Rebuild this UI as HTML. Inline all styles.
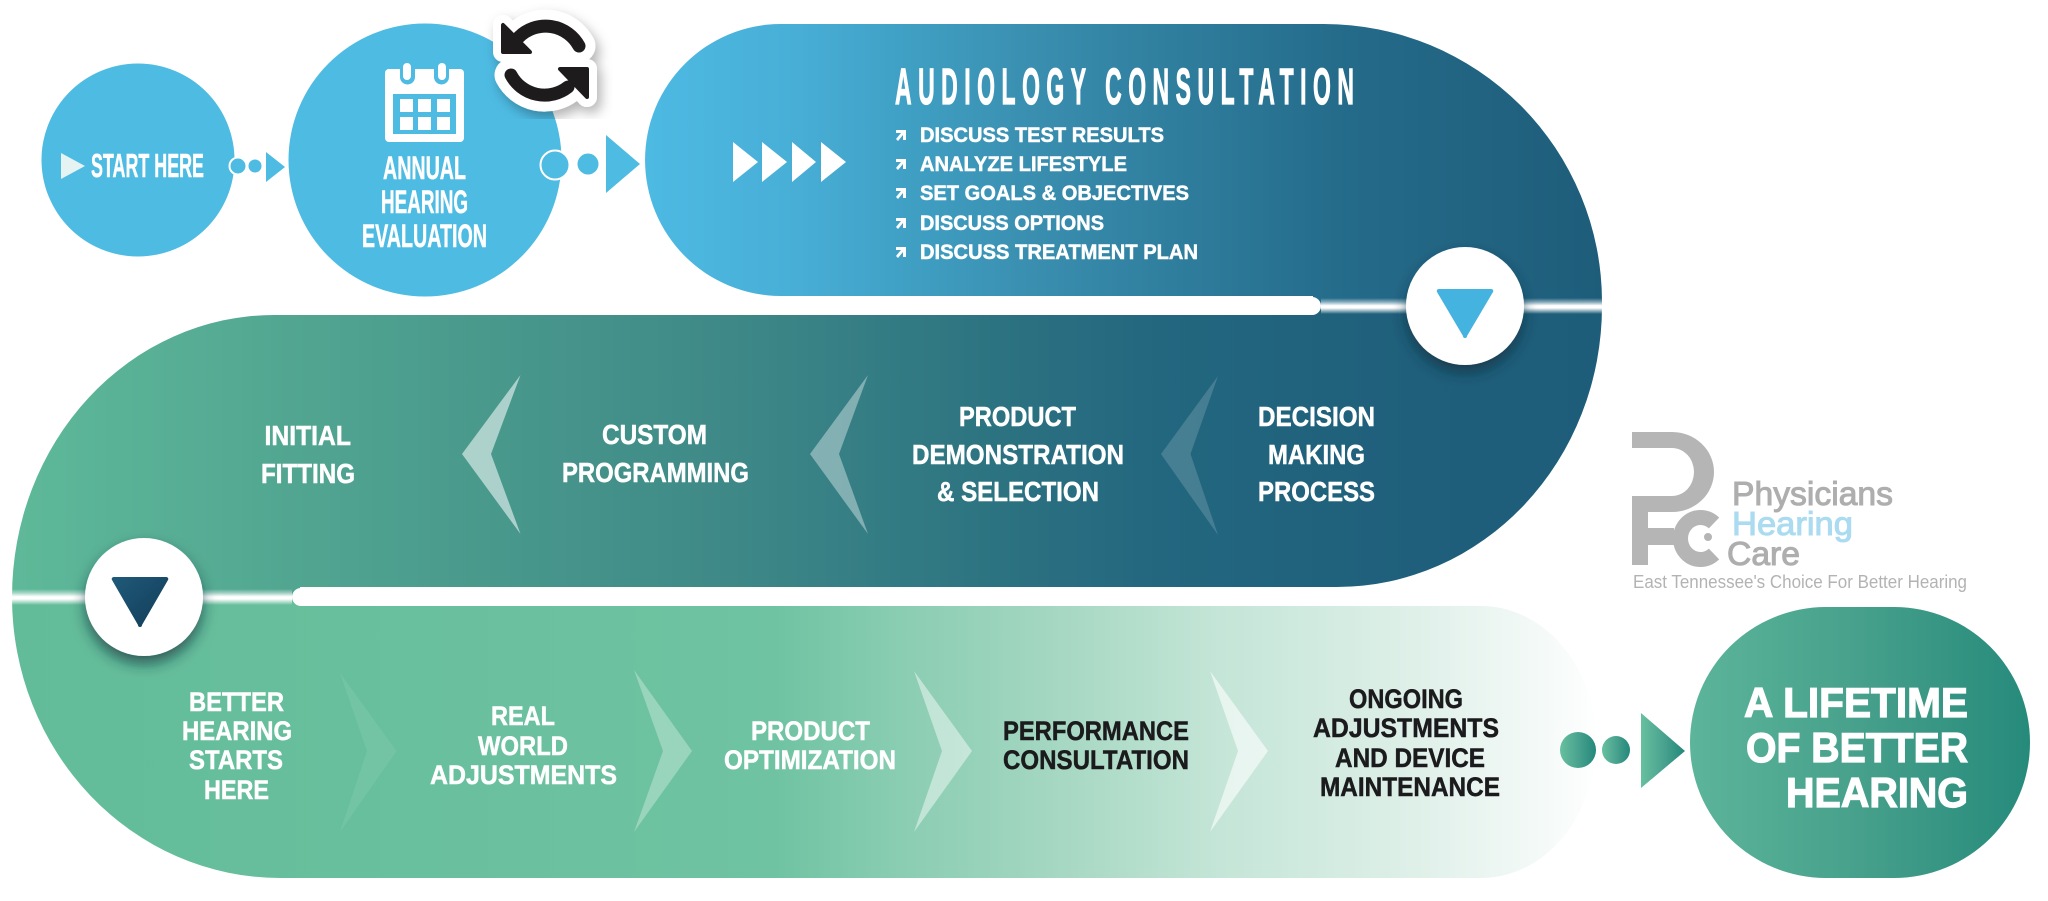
<!DOCTYPE html>
<html><head><meta charset="utf-8"><style>
html,body{margin:0;padding:0;background:#fff}
svg{display:block}
text{font-family:"Liberation Sans",sans-serif;font-weight:700;fill:#fff;stroke:#fff;stroke-width:.5}
.d{fill:#1b1b1d;stroke:#1b1b1d}
.l{font-weight:400;fill:#b3b3b3;stroke:none}
</style></head><body>
<svg width="2048" height="901" viewBox="0 0 2048 901" xmlns="http://www.w3.org/2000/svg">
<defs>
<linearGradient id="g1" gradientUnits="userSpaceOnUse" x1="645" y1="0" x2="1602" y2="0">
<stop offset="0" stop-color="#4dbae3"/><stop offset=".16" stop-color="#48aed6"/><stop offset=".28" stop-color="#3f9fc3"/><stop offset=".4" stop-color="#3a8fb0"/><stop offset=".54" stop-color="#307f9f"/><stop offset=".74" stop-color="#246a89"/><stop offset="1" stop-color="#1e5d7a"/>
</linearGradient>
<linearGradient id="g2" gradientUnits="userSpaceOnUse" x1="12" y1="0" x2="1602" y2="0">
<stop offset="0" stop-color="#5eb999"/><stop offset=".24" stop-color="#4d9f8e"/><stop offset=".44" stop-color="#3f8a88"/><stop offset=".64" stop-color="#2a7080"/><stop offset=".72" stop-color="#23677f"/><stop offset=".88" stop-color="#1f5f7b"/><stop offset="1" stop-color="#1e5d7a"/>
</linearGradient>
<linearGradient id="g3" gradientUnits="userSpaceOnUse" x1="12" y1="0" x2="1600" y2="0">
<stop offset="0" stop-color="#62bc99"/><stop offset=".48" stop-color="#6fc3a2"/><stop offset=".56" stop-color="#8acdb3"/><stop offset=".64" stop-color="#a0d5bf"/><stop offset=".76" stop-color="#c4e5d7"/><stop offset=".885" stop-color="#dff0e9"/><stop offset=".966" stop-color="#f5faf8"/><stop offset="1" stop-color="#ffffff"/>
</linearGradient>
<linearGradient id="g4" x1="0" y1="0" x2="1" y2="0">
<stop offset="0" stop-color="#67c09e"/><stop offset=".5" stop-color="#4aa38f"/><stop offset="1" stop-color="#23887b"/>
</linearGradient>
<linearGradient id="g5" x1="0" y1="0" x2="1" y2="0">
<stop offset="0" stop-color="#5cb59a"/><stop offset=".5" stop-color="#46a08b"/><stop offset="1" stop-color="#268a7b"/>
</linearGradient>
<linearGradient id="gb" x1="0" y1="0" x2="0" y2="1">
<stop offset="0" stop-color="#fff" stop-opacity="0"/><stop offset=".25" stop-color="#fff" stop-opacity=".45"/><stop offset=".48" stop-color="#fff"/><stop offset=".62" stop-color="#fff"/><stop offset=".85" stop-color="#fff" stop-opacity=".4"/><stop offset="1" stop-color="#fff" stop-opacity="0"/>
</linearGradient>
<linearGradient id="gt" x1="0" y1="0" x2="1" y2="1">
<stop offset="0" stop-color="#1f5a79"/><stop offset="1" stop-color="#123c58"/>
</linearGradient>
<filter id="sh" x="-40%" y="-40%" width="180%" height="180%"><feDropShadow dx="0" dy="8" stdDeviation="7" flood-color="#0a2a38" flood-opacity=".65"/></filter>
<filter id="sh2" x="-30%" y="-30%" width="160%" height="160%"><feDropShadow dx="4" dy="6" stdDeviation="6" flood-color="#000" flood-opacity=".3"/></filter>
</defs>

<!-- rows -->
<path d="M781 24H1324A278 278 0 0 1 1602 302V306H1313V296H781A136 136 0 0 1 781 24Z" fill="url(#g1)"/>
<path d="M274 315H1313V306H1602A265 281 0 0 1 1337 587H300V597H12A262 282 0 0 1 274 315Z" fill="url(#g2)"/>
<path d="M12 597H300V606H1481A115 136 0 0 1 1481 878H280A268 281 0 0 1 12 597Z" fill="url(#g3)"/>
<!-- white bars -->
<path d="M700 297H1312a9 9 0 0 1 0 18H700Z" fill="#fff"/>
<path d="M301 588H1400V606H301a9 9 0 0 1 0-18Z" fill="#fff"/>
<rect x="1321" y="298" width="281" height="16" fill="url(#gb)"/>
<rect x="12" y="589" width="280" height="16" fill="url(#gb)"/>

<!-- start circles -->
<circle cx="138" cy="160" r="96.5" fill="#4ebbe3"/>
<circle cx="425" cy="160" r="136.5" fill="#4ebbe3"/>
<polygon points="61,153 85,166 61,179" fill="#e6f3f3"/>
<text x="91" y="177" font-size="33" textLength="113" lengthAdjust="spacingAndGlyphs">START HERE</text>
<circle cx="238" cy="166" r="8.5" fill="#4ebbe3" stroke="#fff" stroke-width="2"/>
<circle cx="255" cy="166" r="6.5" fill="#4ebbe3"/>
<polygon points="266,152 285,167 266,182" fill="#4ebbe3"/>
<text x="383" y="179" font-size="32" textLength="83" lengthAdjust="spacingAndGlyphs">ANNUAL</text>
<text x="381" y="213" font-size="32" textLength="87" lengthAdjust="spacingAndGlyphs">HEARING</text>
<text x="362" y="247" font-size="32" textLength="125" lengthAdjust="spacingAndGlyphs">EVALUATION</text>
<circle cx="555" cy="165" r="14.5" fill="#4ebbe3" stroke="#fff" stroke-width="2"/>
<circle cx="588" cy="164" r="10.5" fill="#4ebbe3"/>
<polygon points="606,135 640,164 606,193" fill="#4ebbe3"/>

<!-- calendar -->
<rect x="385" y="69" width="79" height="73" rx="4" fill="#fff"/>
<rect x="393" y="94" width="63" height="40" fill="#4ebbe3"/>
<g fill="#fff">
<rect x="400" y="99" width="13" height="13"/><rect x="418" y="99" width="13" height="13"/><rect x="437" y="99" width="13" height="13"/>
<rect x="400" y="117" width="13" height="13"/><rect x="418" y="117" width="13" height="13"/><rect x="437" y="117" width="13" height="13"/>
</g>
<path d="M400 69V77a7.500 7.500 0 0 0 15 0V69Z" fill="#4ebbe3"/>
<path d="M434 69V77a7.500 7.500 0 0 0 15 0V69Z" fill="#4ebbe3"/>
<rect x="403" y="63" width="8" height="17" rx="4" fill="#fff"/>
<rect x="438" y="63" width="8" height="17" rx="4" fill="#fff"/>

<!-- reload sticker -->
<g filter="url(#sh2)">
<g fill="#fff" stroke="#fff" stroke-linejoin="round" stroke-linecap="round">
<circle cx="545" cy="60" r="34" stroke="none"/>
<path d="M579 46A38 38 0 0 0 519 37" fill="none" stroke-width="33"/>
<polygon points="503,25 503,52 530,52" stroke-width="20"/>
<path d="M511 75A38 38 0 0 0 568 87" fill="none" stroke-width="33"/>
<polygon points="587,69 587,97 560,69" stroke-width="20"/>
</g>
</g>
<g fill="#1d1b1c" stroke="#1d1b1c" stroke-linejoin="round" stroke-linecap="round">
<path d="M579 46A38 38 0 0 0 519 37" fill="none" stroke-width="13"/>
<polygon points="503,25 503,52 530,52" stroke-width="4"/>
<path d="M511 75A38 38 0 0 0 568 87" fill="none" stroke-width="13"/>
<polygon points="587,69 587,97 560,69" stroke-width="4"/>
</g>

<!-- audiology -->
<g fill="#fff">
<polygon points="733,142 758,162 733,182"/><polygon points="762,142 787,162 762,182"/><polygon points="792,142 816,162 792,182"/><polygon points="821,142 846,162 821,182"/>
</g>
<text transform="translate(895,104) scale(.45,1)" font-size="51" textLength="1020" lengthAdjust="spacing" style="stroke-width:1.2">AUDIOLOGY CONSULTATION</text>
<g fill="#fff">
<path d="M896 130h10v10h-3v-5l-5 6-2-2 5-6h-5z"/>
<path d="M896 159h10v10h-3v-5l-5 6-2-2 5-6h-5z"/>
<path d="M896 188h10v10h-3v-5l-5 6-2-2 5-6h-5z"/>
<path d="M896 218h10v10h-3v-5l-5 6-2-2 5-6h-5z"/>
<path d="M896 247h10v10h-3v-5l-5 6-2-2 5-6h-5z"/>
</g>
<text x="920" y="142" font-size="21" textLength="244" lengthAdjust="spacingAndGlyphs">DISCUSS TEST RESULTS</text>
<text x="920" y="171" font-size="21" textLength="207" lengthAdjust="spacingAndGlyphs">ANALYZE LIFESTYLE</text>
<text x="920" y="200" font-size="21" textLength="269" lengthAdjust="spacingAndGlyphs">SET GOALS &amp; OBJECTIVES</text>
<text x="920" y="230" font-size="21" textLength="184" lengthAdjust="spacingAndGlyphs">DISCUSS OPTIONS</text>
<text x="920" y="259" font-size="21" textLength="278" lengthAdjust="spacingAndGlyphs">DISCUSS TREATMENT PLAN</text>

<!-- button 1 -->
<circle cx="1465" cy="306" r="59" fill="#fff" filter="url(#sh)"/>
<path d="M1439 289H1491a2 2 0 0 1 2 3L1467 336a2 2 0 0 1-4 0L1437 292a2 2 0 0 1 2-3Z" fill="#45b3df"/>

<!-- row 2 -->
<polygon points="462,454 520.500,375 491,454 520.500,534" fill="#fff" fill-opacity=".55"/>
<polygon points="810,454 868,375 839,454 868,534" fill="#fff" fill-opacity=".38"/>
<polygon points="1161,454 1218,376 1190.500,454 1218,535" fill="#fff" fill-opacity=".16"/>
<text x="264.500" y="445" font-size="28" textLength="86.500" lengthAdjust="spacingAndGlyphs">INITIAL</text>
<text x="261" y="483" font-size="28" textLength="94" lengthAdjust="spacingAndGlyphs">FITTING</text>
<text x="602" y="444" font-size="28" textLength="105" lengthAdjust="spacingAndGlyphs">CUSTOM</text>
<text x="562" y="482" font-size="28" textLength="187" lengthAdjust="spacingAndGlyphs">PROGRAMMING</text>
<text x="959" y="426" font-size="28" textLength="117" lengthAdjust="spacingAndGlyphs">PRODUCT</text>
<text x="912" y="464" font-size="28" textLength="212" lengthAdjust="spacingAndGlyphs">DEMONSTRATION</text>
<text x="937" y="501" font-size="28" textLength="162" lengthAdjust="spacingAndGlyphs">&amp; SELECTION</text>
<text x="1258" y="426" font-size="28" textLength="117" lengthAdjust="spacingAndGlyphs">DECISION</text>
<text x="1268" y="464" font-size="28" textLength="97" lengthAdjust="spacingAndGlyphs">MAKING</text>
<text x="1258" y="501" font-size="28" textLength="117" lengthAdjust="spacingAndGlyphs">PROCESS</text>

<!-- button 2 -->
<circle cx="144" cy="597" r="59" fill="#fff" filter="url(#sh)"/>
<path d="M114 577H166a2 2 0 0 1 2 3L142 625a2 2 0 0 1-4 0L112 580a2 2 0 0 1 2-3Z" fill="url(#gt)"/>

<!-- row 3 -->
<polygon points="340,673 396.500,751 340,832 367,751" fill="#fff" fill-opacity=".08"/>
<polygon points="634,670 692,751 634,832 663,751" fill="#fff" fill-opacity=".3"/>
<polygon points="914,671 972,751 914,832 942,751" fill="#fff" fill-opacity=".45"/>
<polygon points="1210,671 1268,751 1210,832 1238,751" fill="#fff" fill-opacity=".6"/>
<text x="189" y="711" font-size="27" textLength="95" lengthAdjust="spacingAndGlyphs">BETTER</text>
<text x="182" y="740" font-size="27" textLength="110" lengthAdjust="spacingAndGlyphs">HEARING</text>
<text x="189" y="769" font-size="27" textLength="94" lengthAdjust="spacingAndGlyphs">STARTS</text>
<text x="204" y="799" font-size="27" textLength="65" lengthAdjust="spacingAndGlyphs">HERE</text>
<text x="491" y="725" font-size="27" textLength="64" lengthAdjust="spacingAndGlyphs">REAL</text>
<text x="478" y="755" font-size="27" textLength="90" lengthAdjust="spacingAndGlyphs">WORLD</text>
<text x="430" y="784" font-size="27" textLength="187" lengthAdjust="spacingAndGlyphs">ADJUSTMENTS</text>
<text x="751" y="740" font-size="27" textLength="119" lengthAdjust="spacingAndGlyphs">PRODUCT</text>
<text x="724" y="769" font-size="27" textLength="172" lengthAdjust="spacingAndGlyphs">OPTIMIZATION</text>
<text class="d" x="1003" y="740" font-size="27" textLength="186" lengthAdjust="spacingAndGlyphs">PERFORMANCE</text>
<text class="d" x="1003" y="769" font-size="27" textLength="186" lengthAdjust="spacingAndGlyphs">CONSULTATION</text>
<text class="d" x="1349" y="708" font-size="27" textLength="114" lengthAdjust="spacingAndGlyphs">ONGOING</text>
<text class="d" x="1313" y="737" font-size="27" textLength="186" lengthAdjust="spacingAndGlyphs">ADJUSTMENTS</text>
<text class="d" x="1335" y="767" font-size="27" textLength="150" lengthAdjust="spacingAndGlyphs">AND DEVICE</text>
<text class="d" x="1320" y="796" font-size="27" textLength="180" lengthAdjust="spacingAndGlyphs">MAINTENANCE</text>

<!-- connector end -->
<circle cx="1578" cy="750" r="18" fill="url(#g4)"/>
<circle cx="1616" cy="750" r="14" fill="url(#g4)"/>
<polygon points="1641,713 1685,751 1641,788" fill="url(#g4)"/>

<!-- final pill -->
<rect x="1690" y="607" width="340" height="271" rx="136" ry="135.500" fill="url(#g5)"/>
<text x="1744" y="717" font-size="42" textLength="224" lengthAdjust="spacingAndGlyphs" style="stroke-width:1.2">A LIFETIME</text>
<text x="1746" y="762" font-size="42" textLength="222" lengthAdjust="spacingAndGlyphs" style="stroke-width:1.2">OF BETTER</text>
<text x="1786" y="807" font-size="42" textLength="182" lengthAdjust="spacingAndGlyphs" style="stroke-width:1.2">HEARING</text>

<!-- logo -->
<path d="M1632 432H1672A42 40 0 0 1 1714 472A42 40 0 0 1 1672 512H1648V565H1632V496H1672A22 24 0 0 0 1694 472A22 24 0 0 0 1672 448H1632Z" fill="#b5b5b5"/>
<rect x="1648" y="528" width="26" height="17" fill="#b5b5b5"/>
<path d="M1714 523A20 21 0 1 0 1714 554" fill="none" stroke="#b5b5b5" stroke-width="15"/>
<circle cx="1708" cy="537" r="4" fill="#b5b5b5"/>
<text class="l" x="1732" y="505" font-size="33" textLength="161" lengthAdjust="spacingAndGlyphs" style="fill:#aeaeae;stroke:#aeaeae;stroke-width:1">Physicians</text>
<text class="l" x="1732" y="535" font-size="33" textLength="121" lengthAdjust="spacingAndGlyphs" style="fill:#abdbf0;stroke:#abdbf0;stroke-width:1">Hearing</text>
<text class="l" x="1727" y="565" font-size="33" textLength="73" lengthAdjust="spacingAndGlyphs" style="fill:#aeaeae;stroke:#aeaeae;stroke-width:1">Care</text>
<text class="l" x="1633" y="588" font-size="18" textLength="334" lengthAdjust="spacingAndGlyphs">East Tennessee's Choice For Better Hearing</text>
</svg>
</body></html>
